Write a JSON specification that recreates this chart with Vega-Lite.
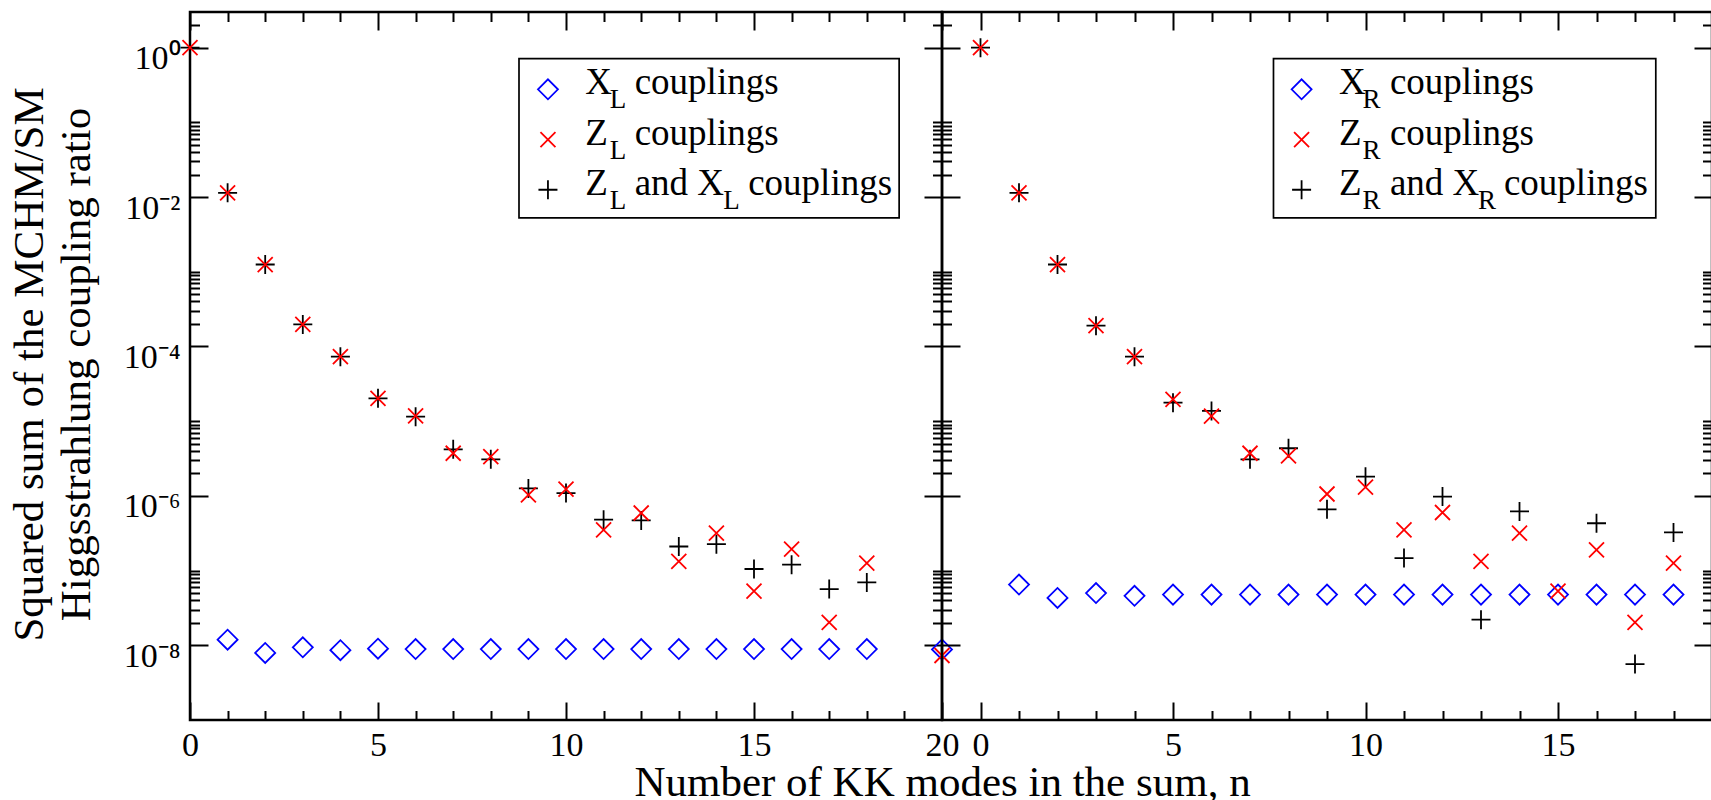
{
  "$schema": "https://vega.github.io/schema/vega-lite/v6.json",
  "padding": {"left": 6, "top": 9, "right": 0, "bottom": 0},
  "bounds": "flush",
  "spacing": 0,
  "background": "white",
  "config": {
    "view": {"stroke": "black", "strokeWidth": 2.5},
    "font": "Liberation Serif",
    "axis": {
      "domain": false, "grid": false, "tickColor": "black", "tickWidth": 2,
      "labelFont": "Liberation Serif", "titleFont": "Liberation Serif",
      "labelColor": "black", "titleColor": "black",
      "labelFontSize": 34, "titleFontSize": 43, "titleFontWeight": "normal",
      "labelOverlap": false, "labelFlush": false, "labelBound": false
    }
  },
  "datasets": {
    "left": [
      {"n": 1, "series": "X", "value": 1.19e-8},
      {"n": 2, "series": "X", "value": 7.9e-9},
      {"n": 3, "series": "X", "value": 9.4e-9},
      {"n": 4, "series": "X", "value": 8.6e-9},
      {"n": 5, "series": "X", "value": 9.0e-9},
      {"n": 6, "series": "X", "value": 8.9e-9},
      {"n": 7, "series": "X", "value": 8.9e-9},
      {"n": 8, "series": "X", "value": 8.9e-9},
      {"n": 9, "series": "X", "value": 8.9e-9},
      {"n": 10, "series": "X", "value": 8.9e-9},
      {"n": 11, "series": "X", "value": 8.9e-9},
      {"n": 12, "series": "X", "value": 8.9e-9},
      {"n": 13, "series": "X", "value": 8.9e-9},
      {"n": 14, "series": "X", "value": 8.9e-9},
      {"n": 15, "series": "X", "value": 8.9e-9},
      {"n": 16, "series": "X", "value": 8.9e-9},
      {"n": 17, "series": "X", "value": 8.9e-9},
      {"n": 18, "series": "X", "value": 8.9e-9},
      {"n": 20, "series": "X", "value": 8.8e-9},
      {"n": 0, "series": "Z", "value": 1.0},
      {"n": 1, "series": "Z", "value": 1.14e-2},
      {"n": 2, "series": "Z", "value": 1.25e-3},
      {"n": 3, "series": "Z", "value": 1.97e-4},
      {"n": 4, "series": "Z", "value": 7.3e-5},
      {"n": 5, "series": "Z", "value": 2.02e-5},
      {"n": 6, "series": "Z", "value": 1.18e-5},
      {"n": 7, "series": "Z", "value": 3.72e-6},
      {"n": 8, "series": "Z", "value": 3.36e-6},
      {"n": 9, "series": "Z", "value": 1.03e-6},
      {"n": 10, "series": "Z", "value": 1.23e-6},
      {"n": 11, "series": "Z", "value": 3.5e-7},
      {"n": 12, "series": "Z", "value": 5.9e-7},
      {"n": 13, "series": "Z", "value": 1.33e-7},
      {"n": 14, "series": "Z", "value": 3.17e-7},
      {"n": 15, "series": "Z", "value": 5.3e-8},
      {"n": 16, "series": "Z", "value": 1.94e-7},
      {"n": 17, "series": "Z", "value": 2.03e-8},
      {"n": 18, "series": "Z", "value": 1.26e-7},
      {"n": 20, "series": "Z", "value": 7.3e-9},
      {"n": 0, "series": "ZX", "value": 1.0},
      {"n": 1, "series": "ZX", "value": 1.14e-2},
      {"n": 2, "series": "ZX", "value": 1.25e-3},
      {"n": 3, "series": "ZX", "value": 1.97e-4},
      {"n": 4, "series": "ZX", "value": 7.3e-5},
      {"n": 5, "series": "ZX", "value": 2.02e-5},
      {"n": 6, "series": "ZX", "value": 1.15e-5},
      {"n": 7, "series": "ZX", "value": 4.2e-6},
      {"n": 8, "series": "ZX", "value": 3.09e-6},
      {"n": 9, "series": "ZX", "value": 1.26e-6},
      {"n": 10, "series": "ZX", "value": 1.09e-6},
      {"n": 11, "series": "ZX", "value": 4.8e-7},
      {"n": 12, "series": "ZX", "value": 4.7e-7},
      {"n": 13, "series": "ZX", "value": 2.1e-7},
      {"n": 14, "series": "ZX", "value": 2.26e-7},
      {"n": 15, "series": "ZX", "value": 1.05e-7},
      {"n": 16, "series": "ZX", "value": 1.2e-7},
      {"n": 17, "series": "ZX", "value": 5.66e-8},
      {"n": 18, "series": "ZX", "value": 6.95e-8}
    ],
    "right": [
      {"n": 1, "series": "X", "value": 6.5e-8},
      {"n": 2, "series": "X", "value": 4.3e-8},
      {"n": 3, "series": "X", "value": 5.0e-8},
      {"n": 4, "series": "X", "value": 4.6e-8},
      {"n": 5, "series": "X", "value": 4.77e-8},
      {"n": 6, "series": "X", "value": 4.77e-8},
      {"n": 7, "series": "X", "value": 4.77e-8},
      {"n": 8, "series": "X", "value": 4.77e-8},
      {"n": 9, "series": "X", "value": 4.77e-8},
      {"n": 10, "series": "X", "value": 4.77e-8},
      {"n": 11, "series": "X", "value": 4.77e-8},
      {"n": 12, "series": "X", "value": 4.77e-8},
      {"n": 13, "series": "X", "value": 4.77e-8},
      {"n": 14, "series": "X", "value": 4.77e-8},
      {"n": 15, "series": "X", "value": 4.77e-8},
      {"n": 16, "series": "X", "value": 4.77e-8},
      {"n": 17, "series": "X", "value": 4.77e-8},
      {"n": 18, "series": "X", "value": 4.77e-8},
      {"n": 0, "series": "Z", "value": 1.0},
      {"n": 1, "series": "Z", "value": 1.14e-2},
      {"n": 2, "series": "Z", "value": 1.25e-3},
      {"n": 3, "series": "Z", "value": 1.9e-4},
      {"n": 4, "series": "Z", "value": 7.3e-5},
      {"n": 5, "series": "Z", "value": 1.96e-5},
      {"n": 6, "series": "Z", "value": 1.17e-5},
      {"n": 7, "series": "Z", "value": 3.72e-6},
      {"n": 8, "series": "Z", "value": 3.43e-6},
      {"n": 9, "series": "Z", "value": 1.06e-6},
      {"n": 10, "series": "Z", "value": 1.31e-6},
      {"n": 11, "series": "Z", "value": 3.5e-7},
      {"n": 12, "series": "Z", "value": 5.99e-7},
      {"n": 13, "series": "Z", "value": 1.33e-7},
      {"n": 14, "series": "Z", "value": 3.17e-7},
      {"n": 15, "series": "Z", "value": 5.3e-8},
      {"n": 16, "series": "Z", "value": 1.9e-7},
      {"n": 17, "series": "Z", "value": 2.03e-8},
      {"n": 18, "series": "Z", "value": 1.26e-7},
      {"n": 0, "series": "ZX", "value": 1.0},
      {"n": 1, "series": "ZX", "value": 1.14e-2},
      {"n": 2, "series": "ZX", "value": 1.25e-3},
      {"n": 3, "series": "ZX", "value": 1.9e-4},
      {"n": 4, "series": "ZX", "value": 7.3e-5},
      {"n": 5, "series": "ZX", "value": 1.77e-5},
      {"n": 6, "series": "ZX", "value": 1.37e-5},
      {"n": 7, "series": "ZX", "value": 3.09e-6},
      {"n": 8, "series": "ZX", "value": 4.34e-6},
      {"n": 9, "series": "ZX", "value": 6.6e-7},
      {"n": 10, "series": "ZX", "value": 1.81e-6},
      {"n": 11, "series": "ZX", "value": 1.47e-7},
      {"n": 12, "series": "ZX", "value": 9.8e-7},
      {"n": 13, "series": "ZX", "value": 2.2e-8},
      {"n": 14, "series": "ZX", "value": 6.2e-7},
      {"n": 16, "series": "ZX", "value": 4.3e-7},
      {"n": 17, "series": "ZX", "value": 5.6e-9},
      {"n": 18, "series": "ZX", "value": 3.24e-7}
    ],
    "legendL": [
      {"row": 1, "series": "X", "a": "X", "b": "L", "c": "couplings", "d": "", "e": ""},
      {"row": 2, "series": "Z", "a": "Z", "b": "L", "c": "couplings", "d": "", "e": ""},
      {"row": 3, "series": "ZX", "a": "Z", "b": "L", "c": "and X", "d": "L", "e": "couplings"}
    ],
    "legendR": [
      {"row": 1, "series": "X", "a": "X", "b": "R", "c": "couplings", "d": "", "e": ""},
      {"row": 2, "series": "Z", "a": "Z", "b": "R", "c": "couplings", "d": "", "e": ""},
      {"row": 3, "series": "ZX", "a": "Z", "b": "R", "c": "and X", "d": "R", "e": "couplings"}
    ]
  },
  "hconcat": [
    {
      "width": 752,
      "height": 708,
      "resolve": {"scale": {"y": "independent"}, "axis": {"x": "independent", "y": "independent"}},
      "layer": [
        {
          "data": {"name": "left"},
          "transform": [{"filter": "datum.series === 'X'"}],
          "mark": {"type": "point", "filled": false, "strokeWidth": 1.8, "opacity": 1, "size": 400},
          "encoding": {
            "x": {"field": "n", "type": "quantitative",
              "scale": {"domain": [0, 20], "nice": false, "zero": false},
              "axis": {"orient": "bottom", "values": [0,1,2,3,4,5,6,7,8,9,10,11,12,13,14,15,16,17,18,19,20],
                "labelExpr": "datum.value % 5 === 0 ? datum.label : ''",
                "tickSize": {"condition": {"test": "datum.value % 5 === 0", "value": -18}, "value": -9.5},
                "labelPadding": 53, "labelBaseline": "alphabetic",
                "title": "Number of KK modes in the sum, n", "titleX": 752, "titleY": 75,
                "titleAlign": "center", "titleBaseline": "alphabetic"}},
            "y": {"field": "value", "type": "quantitative",
              "scale": {"type": "log", "domain": [1e-9, 3], "nice": false},
              "axis": {"orient": "left",
                "values": [2,1,0.1,0.09,0.08,0.07,0.06,0.05,0.04,0.03,0.02,0.01,0.001,0.0009,0.0008,0.0007,0.0006,0.0005,0.0004,0.0003,0.0002,0.0001,0.00001,0.000009,0.000008,0.000007,0.000006,0.000005,0.000004,0.000003,0.000002,0.000001,1e-7,9e-8,8e-8,7e-8,6e-8,5e-8,4e-8,3e-8,2e-8,1e-8],
                "labelExpr": "datum.value === 1 ? '10⁰' : datum.value === 0.01 ? '10⁻²' : datum.value === 0.0001 ? '10⁻⁴' : datum.value === 0.000001 ? '10⁻⁶' : datum.value === 0.00000001 ? '10⁻⁸' : ''",
                "tickSize": {"condition": {"test": "datum.value === 1 || datum.value === 0.01 || datum.value === 0.0001 || datum.value === 0.000001 || datum.value === 0.00000001", "value": -18}, "value": -9.5},
                "labelPadding": 28, "labelAlign": "right", "labelBaseline": "alphabetic", "labelOffset": 21,
                "title": ["Squared sum of the MCHM/SM", "Higgsstrahlung coupling ratio"],
                "titleX": -148, "titleY": 352, "titleAngle": -90, "titleAlign": "center",
                "titleBaseline": "alphabetic", "titleLineHeight": 47}},
            "shape": {"field": "series", "type": "nominal", "scale": {"domain": ["X", "Z", "ZX"], "range": ["M-1,0L0,-1L1,0L0,1Z", "M-0.75,-0.75L0.75,0.75M-0.75,0.75L0.75,-0.75", "M-0.95,0L0.95,0M0,-0.95L0,0.95"]}, "legend": null},
            "color": {"field": "series", "type": "nominal", "scale": {"domain": ["X", "Z", "ZX"], "range": ["#0000ff", "#ff0000", "#000000"]}, "legend": null}
          }
        },
        {
          "data": {"name": "left"},
          "transform": [{"filter": "datum.series === 'ZX'"}],
          "mark": {"type": "point", "filled": false, "strokeWidth": 1.8, "opacity": 1, "size": 400},
          "encoding": {
            "x": {"field": "n", "type": "quantitative",
              "scale": {"domain": [0, 20], "nice": false, "zero": false},
              "axis": {"orient": "top", "values": [0,1,2,3,4,5,6,7,8,9,10,11,12,13,14,15,16,17,18,19,20], "labels": false, "title": null,
                "tickSize": {"condition": {"test": "datum.value % 5 === 0", "value": -18}, "value": -9.5}}},
            "y": {"field": "value", "type": "quantitative",
              "scale": {"type": "log", "domain": [1e-9, 3], "nice": false},
              "axis": {"orient": "right", "labels": false, "title": null,
                "values": [2,1,0.1,0.09,0.08,0.07,0.06,0.05,0.04,0.03,0.02,0.01,0.001,0.0009,0.0008,0.0007,0.0006,0.0005,0.0004,0.0003,0.0002,0.0001,0.00001,0.000009,0.000008,0.000007,0.000006,0.000005,0.000004,0.000003,0.000002,0.000001,1e-7,9e-8,8e-8,7e-8,6e-8,5e-8,4e-8,3e-8,2e-8,1e-8],
                "tickSize": {"condition": {"test": "datum.value === 1 || datum.value === 0.01 || datum.value === 0.0001 || datum.value === 0.000001 || datum.value === 0.00000001", "value": -18}, "value": -9.5}}},
            "shape": {"field": "series", "type": "nominal", "scale": {"domain": ["X", "Z", "ZX"], "range": ["M-1,0L0,-1L1,0L0,1Z", "M-0.75,-0.75L0.75,0.75M-0.75,0.75L0.75,-0.75", "M-0.95,0L0.95,0M0,-0.95L0,0.95"]}, "legend": null},
            "color": {"field": "series", "type": "nominal", "scale": {"domain": ["X", "Z", "ZX"], "range": ["#0000ff", "#ff0000", "#000000"]}, "legend": null}
          }
        },
        {
          "data": {"name": "left"},
          "transform": [{"filter": "datum.series === 'Z'"}],
          "mark": {"type": "point", "filled": false, "strokeWidth": 1.8, "opacity": 1, "size": 400},
          "encoding": {
            "x": {"field": "n", "type": "quantitative", "scale": {"domain": [0, 20], "nice": false, "zero": false}, "axis": null},
            "y": {"field": "value", "type": "quantitative", "scale": {"type": "log", "domain": [1e-9, 3], "nice": false}, "axis": null},
            "shape": {"field": "series", "type": "nominal", "scale": {"domain": ["X", "Z", "ZX"], "range": ["M-1,0L0,-1L1,0L0,1Z", "M-0.75,-0.75L0.75,0.75M-0.75,0.75L0.75,-0.75", "M-0.95,0L0.95,0M0,-0.95L0,0.95"]}, "legend": null},
            "color": {"field": "series", "type": "nominal", "scale": {"domain": ["X", "Z", "ZX"], "range": ["#0000ff", "#ff0000", "#000000"]}, "legend": null}
          }
        },
        {
          "layer": [
            {
              "data": {"values": [{"box": 1}]},
              "mark": {"type": "rect", "fill": "white", "stroke": "black", "strokeWidth": 1.7},
              "encoding": {
                "x": {"datum": 8.75, "type": "quantitative", "axis": null},
                "x2": {"datum": 18.86},
                "y": {"datum": 0.39, "type": "quantitative", "scale": {"domain": [-0.54, 13.56], "reverse": true, "nice": false, "zero": false}, "axis": null},
                "y2": {"datum": 3.56}
              }
            },
            {
              "data": {"name": "legendL"},
              "mark": {"type": "point", "filled": false, "strokeWidth": 1.8, "opacity": 1, "size": 400},
              "encoding": {
                "x": {"datum": 9.52, "type": "quantitative", "axis": null},
                "y": {"field": "row", "type": "quantitative", "scale": {"domain": [-0.54, 13.56], "reverse": true, "nice": false, "zero": false}, "axis": null},
                "shape": {"field": "series", "type": "nominal", "scale": {"domain": ["X", "Z", "ZX"], "range": ["M-1,0L0,-1L1,0L0,1Z", "M-0.75,-0.75L0.75,0.75M-0.75,0.75L0.75,-0.75", "M-0.95,0L0.95,0M0,-0.95L0,0.95"]}, "legend": null},
                "color": {"field": "series", "type": "nominal", "scale": {"domain": ["X", "Z", "ZX"], "range": ["#0000ff", "#ff0000", "#000000"]}, "legend": null}
              }
            },
            {
              "data": {"name": "legendL"},
              "mark": {"type": "text", "align": "left", "baseline": "alphabetic", "font": "Liberation Serif", "fontSize": 37, "color": "black", "dx": 0, "dy": 5},
              "encoding": {
                "x": {"datum": 10.51, "type": "quantitative", "axis": null},
                "y": {"field": "row", "type": "quantitative", "scale": {"domain": [-0.54, 13.56], "reverse": true, "nice": false, "zero": false}, "axis": null},
                "text": {"field": "a"}
              }
            },
            {
              "data": {"name": "legendL"},
              "mark": {"type": "text", "align": "left", "baseline": "alphabetic", "font": "Liberation Serif", "fontSize": 27, "color": "black", "dx": 24.5, "dy": 19},
              "encoding": {
                "x": {"datum": 10.51, "type": "quantitative", "axis": null},
                "y": {"field": "row", "type": "quantitative", "scale": {"domain": [-0.54, 13.56], "reverse": true, "nice": false, "zero": false}, "axis": null},
                "text": {"field": "b"}
              }
            },
            {
              "data": {"name": "legendL"},
              "mark": {"type": "text", "align": "left", "baseline": "alphabetic", "font": "Liberation Serif", "fontSize": 37, "color": "black", "dx": 49.5, "dy": 5},
              "encoding": {
                "x": {"datum": 10.51, "type": "quantitative", "axis": null},
                "y": {"field": "row", "type": "quantitative", "scale": {"domain": [-0.54, 13.56], "reverse": true, "nice": false, "zero": false}, "axis": null},
                "text": {"field": "c"}
              }
            },
            {
              "data": {"name": "legendL"},
              "mark": {"type": "text", "align": "left", "baseline": "alphabetic", "font": "Liberation Serif", "fontSize": 27, "color": "black", "dx": 138, "dy": 19},
              "encoding": {
                "x": {"datum": 10.51, "type": "quantitative", "axis": null},
                "y": {"field": "row", "type": "quantitative", "scale": {"domain": [-0.54, 13.56], "reverse": true, "nice": false, "zero": false}, "axis": null},
                "text": {"field": "d"}
              }
            },
            {
              "data": {"name": "legendL"},
              "mark": {"type": "text", "align": "left", "baseline": "alphabetic", "font": "Liberation Serif", "fontSize": 37, "color": "black", "dx": 163, "dy": 5},
              "encoding": {
                "x": {"datum": 10.51, "type": "quantitative", "axis": null},
                "y": {"field": "row", "type": "quantitative", "scale": {"domain": [-0.54, 13.56], "reverse": true, "nice": false, "zero": false}, "axis": null},
                "text": {"field": "e"}
              }
            }
          ]
        }
      ]
    },
    {
      "width": 770,
      "height": 708,
      "resolve": {"scale": {"y": "independent"}, "axis": {"x": "independent", "y": "independent"}},
      "layer": [
        {
          "data": {"name": "right"},
          "transform": [{"filter": "datum.series === 'X'"}],
          "mark": {"type": "point", "filled": false, "strokeWidth": 1.8, "opacity": 1, "size": 400},
          "encoding": {
            "x": {"field": "n", "type": "quantitative",
              "scale": {"domain": [-1, 19], "nice": false, "zero": false},
              "axis": {"orient": "bottom", "values": [0,1,2,3,4,5,6,7,8,9,10,11,12,13,14,15,16,17,18],
                "labelExpr": "datum.value % 5 === 0 ? datum.label : ''",
                "tickSize": {"condition": {"test": "datum.value % 5 === 0", "value": -18}, "value": -9.5},
                "labelPadding": 53, "labelBaseline": "alphabetic", "title": null}},
            "y": {"field": "value", "type": "quantitative",
              "scale": {"type": "log", "domain": [1e-9, 3], "nice": false},
              "axis": {"orient": "left", "labels": false, "title": null,
                "values": [2,1,0.1,0.09,0.08,0.07,0.06,0.05,0.04,0.03,0.02,0.01,0.001,0.0009,0.0008,0.0007,0.0006,0.0005,0.0004,0.0003,0.0002,0.0001,0.00001,0.000009,0.000008,0.000007,0.000006,0.000005,0.000004,0.000003,0.000002,0.000001,1e-7,9e-8,8e-8,7e-8,6e-8,5e-8,4e-8,3e-8,2e-8,1e-8],
                "tickSize": {"condition": {"test": "datum.value === 1 || datum.value === 0.01 || datum.value === 0.0001 || datum.value === 0.000001 || datum.value === 0.00000001", "value": -18}, "value": -9.5}}},
            "shape": {"field": "series", "type": "nominal", "scale": {"domain": ["X", "Z", "ZX"], "range": ["M-1,0L0,-1L1,0L0,1Z", "M-0.75,-0.75L0.75,0.75M-0.75,0.75L0.75,-0.75", "M-0.95,0L0.95,0M0,-0.95L0,0.95"]}, "legend": null},
            "color": {"field": "series", "type": "nominal", "scale": {"domain": ["X", "Z", "ZX"], "range": ["#0000ff", "#ff0000", "#000000"]}, "legend": null}
          }
        },
        {
          "data": {"name": "right"},
          "transform": [{"filter": "datum.series === 'ZX'"}],
          "mark": {"type": "point", "filled": false, "strokeWidth": 1.8, "opacity": 1, "size": 400},
          "encoding": {
            "x": {"field": "n", "type": "quantitative",
              "scale": {"domain": [-1, 19], "nice": false, "zero": false},
              "axis": {"orient": "top", "values": [0,1,2,3,4,5,6,7,8,9,10,11,12,13,14,15,16,17,18], "labels": false, "title": null,
                "tickSize": {"condition": {"test": "datum.value % 5 === 0", "value": -18}, "value": -9.5}}},
            "y": {"field": "value", "type": "quantitative",
              "scale": {"type": "log", "domain": [1e-9, 3], "nice": false},
              "axis": {"orient": "right", "labels": false, "title": null,
                "values": [2,1,0.1,0.09,0.08,0.07,0.06,0.05,0.04,0.03,0.02,0.01,0.001,0.0009,0.0008,0.0007,0.0006,0.0005,0.0004,0.0003,0.0002,0.0001,0.00001,0.000009,0.000008,0.000007,0.000006,0.000005,0.000004,0.000003,0.000002,0.000001,1e-7,9e-8,8e-8,7e-8,6e-8,5e-8,4e-8,3e-8,2e-8,1e-8],
                "tickSize": {"condition": {"test": "datum.value === 1 || datum.value === 0.01 || datum.value === 0.0001 || datum.value === 0.000001 || datum.value === 0.00000001", "value": -18}, "value": -9.5}}},
            "shape": {"field": "series", "type": "nominal", "scale": {"domain": ["X", "Z", "ZX"], "range": ["M-1,0L0,-1L1,0L0,1Z", "M-0.75,-0.75L0.75,0.75M-0.75,0.75L0.75,-0.75", "M-0.95,0L0.95,0M0,-0.95L0,0.95"]}, "legend": null},
            "color": {"field": "series", "type": "nominal", "scale": {"domain": ["X", "Z", "ZX"], "range": ["#0000ff", "#ff0000", "#000000"]}, "legend": null}
          }
        },
        {
          "data": {"name": "right"},
          "transform": [{"filter": "datum.series === 'Z'"}],
          "mark": {"type": "point", "filled": false, "strokeWidth": 1.8, "opacity": 1, "size": 400},
          "encoding": {
            "x": {"field": "n", "type": "quantitative", "scale": {"domain": [-1, 19], "nice": false, "zero": false}, "axis": null},
            "y": {"field": "value", "type": "quantitative", "scale": {"type": "log", "domain": [1e-9, 3], "nice": false}, "axis": null},
            "shape": {"field": "series", "type": "nominal", "scale": {"domain": ["X", "Z", "ZX"], "range": ["M-1,0L0,-1L1,0L0,1Z", "M-0.75,-0.75L0.75,0.75M-0.75,0.75L0.75,-0.75", "M-0.95,0L0.95,0M0,-0.95L0,0.95"]}, "legend": null},
            "color": {"field": "series", "type": "nominal", "scale": {"domain": ["X", "Z", "ZX"], "range": ["#0000ff", "#ff0000", "#000000"]}, "legend": null}
          }
        },
        {
          "layer": [
            {
              "data": {"values": [{"box": 1}]},
              "mark": {"type": "rect", "fill": "white", "stroke": "black", "strokeWidth": 1.7},
              "encoding": {
                "x": {"datum": 7.61, "type": "quantitative", "axis": null},
                "x2": {"datum": 17.54},
                "y": {"datum": 0.39, "type": "quantitative", "scale": {"domain": [-0.54, 13.56], "reverse": true, "nice": false, "zero": false}, "axis": null},
                "y2": {"datum": 3.56}
              }
            },
            {
              "data": {"name": "legendR"},
              "mark": {"type": "point", "filled": false, "strokeWidth": 1.8, "opacity": 1, "size": 400},
              "encoding": {
                "x": {"datum": 8.34, "type": "quantitative", "axis": null},
                "y": {"field": "row", "type": "quantitative", "scale": {"domain": [-0.54, 13.56], "reverse": true, "nice": false, "zero": false}, "axis": null},
                "shape": {"field": "series", "type": "nominal", "scale": {"domain": ["X", "Z", "ZX"], "range": ["M-1,0L0,-1L1,0L0,1Z", "M-0.75,-0.75L0.75,0.75M-0.75,0.75L0.75,-0.75", "M-0.95,0L0.95,0M0,-0.95L0,0.95"]}, "legend": null},
                "color": {"field": "series", "type": "nominal", "scale": {"domain": ["X", "Z", "ZX"], "range": ["#0000ff", "#ff0000", "#000000"]}, "legend": null}
              }
            },
            {
              "data": {"name": "legendR"},
              "mark": {"type": "text", "align": "left", "baseline": "alphabetic", "font": "Liberation Serif", "fontSize": 37, "color": "black", "dx": 0, "dy": 5},
              "encoding": {
                "x": {"datum": 9.31, "type": "quantitative", "axis": null},
                "y": {"field": "row", "type": "quantitative", "scale": {"domain": [-0.54, 13.56], "reverse": true, "nice": false, "zero": false}, "axis": null},
                "text": {"field": "a"}
              }
            },
            {
              "data": {"name": "legendR"},
              "mark": {"type": "text", "align": "left", "baseline": "alphabetic", "font": "Liberation Serif", "fontSize": 27, "color": "black", "dx": 23.5, "dy": 19},
              "encoding": {
                "x": {"datum": 9.31, "type": "quantitative", "axis": null},
                "y": {"field": "row", "type": "quantitative", "scale": {"domain": [-0.54, 13.56], "reverse": true, "nice": false, "zero": false}, "axis": null},
                "text": {"field": "b"}
              }
            },
            {
              "data": {"name": "legendR"},
              "mark": {"type": "text", "align": "left", "baseline": "alphabetic", "font": "Liberation Serif", "fontSize": 37, "color": "black", "dx": 51, "dy": 5},
              "encoding": {
                "x": {"datum": 9.31, "type": "quantitative", "axis": null},
                "y": {"field": "row", "type": "quantitative", "scale": {"domain": [-0.54, 13.56], "reverse": true, "nice": false, "zero": false}, "axis": null},
                "text": {"field": "c"}
              }
            },
            {
              "data": {"name": "legendR"},
              "mark": {"type": "text", "align": "left", "baseline": "alphabetic", "font": "Liberation Serif", "fontSize": 27, "color": "black", "dx": 139, "dy": 19},
              "encoding": {
                "x": {"datum": 9.31, "type": "quantitative", "axis": null},
                "y": {"field": "row", "type": "quantitative", "scale": {"domain": [-0.54, 13.56], "reverse": true, "nice": false, "zero": false}, "axis": null},
                "text": {"field": "d"}
              }
            },
            {
              "data": {"name": "legendR"},
              "mark": {"type": "text", "align": "left", "baseline": "alphabetic", "font": "Liberation Serif", "fontSize": 37, "color": "black", "dx": 165, "dy": 5},
              "encoding": {
                "x": {"datum": 9.31, "type": "quantitative", "axis": null},
                "y": {"field": "row", "type": "quantitative", "scale": {"domain": [-0.54, 13.56], "reverse": true, "nice": false, "zero": false}, "axis": null},
                "text": {"field": "e"}
              }
            }
          ]
        }
      ]
    }
  ]
}
